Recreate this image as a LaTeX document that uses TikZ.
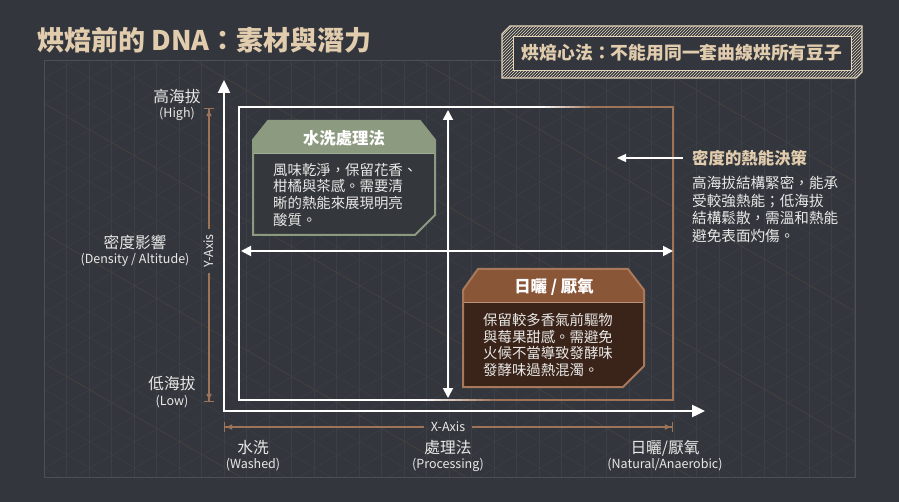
\documentclass[tikz,border=0pt]{standalone}
\usepackage{fontspec}
\newfontfamily\cjk{Noto Sans CJK TC}
\usetikzlibrary{arrows.meta,patterns}
\definecolor{bg}{HTML}{33373D}
\definecolor{beige}{HTML}{E2CCAE}
\definecolor{txt}{HTML}{E8E8E6}
\definecolor{tanl}{HTML}{9E7459}
\definecolor{greenhd}{HTML}{8C9A80}
\definecolor{greenbody}{HTML}{34373B}
\definecolor{brownhd}{HTML}{8A5638}
\definecolor{brownbody}{HTML}{3A2319}
\definecolor{brownedge}{HTML}{A9785A}
\definecolor{gridc}{HTML}{3C4046}
\definecolor{gridb}{HTML}{46423D}
\definecolor{framec}{HTML}{4C5056}
\tikzset{
  lbl/.style={text=txt, inner sep=0pt, font=\cjk\fontsize{15.7}{17}\selectfont},
  lblen/.style={text=txt, inner sep=0pt, font=\cjk\fontsize{12.5}{14}\selectfont},
  axlbl/.style={text=txt, inner sep=5pt, font=\cjk\fontsize{12.5}{14}\selectfont},
  body/.style={text=txt, inner sep=0pt, align=left, anchor=north west, font=\cjk\fontsize{14.4}{16.7}\selectfont},
  hdr/.style={text=white, inner sep=0pt, font=\cjk\bfseries\fontsize{16.4}{18}\selectfont},
  mainax/.style={white, line width=2.4pt, -{Triangle[length=13pt,width=12pt]}},
  cross/.style={white, line width=1.8pt, {Triangle[length=10pt,width=10pt]}-{Triangle[length=10pt,width=10pt]}},
  tanax/.style={tanl, line width=1.4pt, -{Latex[length=7pt,width=6pt] Bar[width=10pt,line width=1.2pt]}},
}
\begin{document}
\begin{tikzpicture}[x=1pt,y=-1pt]
\useasboundingbox (0,0) rectangle (899,502);
\fill[bg] (0,0) rectangle (899,502);
% lattice
\begin{scope}
\clip (44,60) rectangle (855,477);
\foreach \i in {0,...,37} {\draw[gridc, line width=0.5pt] (44+\i*22.5,60) -- (44+\i*22.5,477);}
\foreach \i in {-22,...,20} {
  \draw[gridc, line width=0.5pt] (0,\i*26) -- (900,\i*26+519.6);
  \draw[gridc, line width=0.5pt] (0,\i*26+519.6) -- (900,\i*26);
}
\foreach \i in {-22,-17,...,20} {
  \draw[gridb, line width=0.5pt] (0,\i*26) -- (900,\i*26+519.6);
}
\end{scope}
\draw[framec, line width=0.8pt] (44,60) rectangle (855,477);
% title
\node[anchor=west, inner sep=0pt, text=beige, font=\cjk\bfseries\fontsize{27}{30}\selectfont] (title) at (37,40) {烘焙前的 DNA：素材與潛力};
% top right box
\path[pattern=north east lines, pattern color=beige!75] (502,34) -- (510,26) -- (862,26) -- (862,72) -- (856,78) -- (502,78) -- cycle;
\draw[beige!85, line width=1.1pt] (502,34) -- (510,26) -- (862,26) -- (862,72) -- (856,78) -- (502,78) -- cycle;
\fill[bg] (513,36) rectangle (851,70);
\draw[beige!85, line width=0.9pt] (513,36) rectangle (851,70);
\node[text=beige, inner sep=0pt, font=\cjk\bfseries\fontsize{17.8}{20}\selectfont] (motto) at (682,53) {烘焙心法：不能用同一套曲線烘所有豆子};
% inner rectangle
\draw[tanl, line width=2pt] (595,107) -- (673,107) -- (673,400) -- (495,400);
\foreach \k in {0,...,10} {
  \pgfmathsetmacro\pct{100-\k*10}
  \draw[white!\pct!tanl, line width=2pt] (540+\k*5,107) -- (546+\k*5,107);
  \draw[white!\pct!tanl, line width=2pt] (420+\k*7,400) -- (428+\k*7,400);
}
\draw[white, line width=2pt] (420,400) -- (239,400) -- (239,107) -- (541,107);
% main axes
\coordinate (O) at (224,411);
\coordinate (ytop) at (224,80);
\coordinate (xend) at (705,411);
\draw[mainax] (224,412.2) -- (ytop);
\draw[mainax] (O) -- (xend);
% crosshair arrows
\coordinate (vt) at (448,110);
\coordinate (vb) at (448,398);
\coordinate (hl) at (241,251);
\coordinate (hr) at (673,251);
\draw[cross] (vb) -- (vt);
\draw[cross] (hl) -- (hr);
% tan axes
\coordinate (yt) at (209,108);
\coordinate (yb) at (209,402);
\node[axlbl, rotate=90] (yax) at (209,251) {Y-Axis};
\draw[tanax] (yax.east) -- (yt);
\draw[tanax] (yax.west) -- (yb);
\coordinate (xl) at (224,427);
\coordinate (xr) at (673,427);
\node[axlbl, inner sep=7pt] (xax) at (448,427) {X-Axis};
\draw[tanax] (xax.west) -- (xl);
\draw[tanax] (xax.east) -- (xr);
% green box
\begin{scope}
\clip (253,140) -- (268,121) -- (420,121) -- (435,140) -- (435,215) -- (415,235) -- (253,235) -- cycle;
\fill[greenbody] (250,118) rectangle (440,240);
\fill[greenhd] (250,118) rectangle (440,153);
\end{scope}
\draw[greenhd!80!white, line width=0.8pt] (253,153) -- (435,153);
\draw[greenhd, line width=2pt] (253,140) -- (268,121) -- (420,121) -- (435,140) -- (435,215) -- (415,235) -- (253,235) -- cycle;
\node[hdr] (ghdr) at (344,138) {水洗處理法};
\node[body] (gbody) at (273,163) {風味乾淨，保留花香、\\柑橘與茶感。需要清\\晰的熱能來展現明亮\\酸質。};
% brown box
\begin{scope}
\clip (463,290) -- (478,269) -- (628,269) -- (644,290) -- (644,366) -- (623,387) -- (463,387) -- cycle;
\fill[brownbody] (460,265) rectangle (648,390);
\fill[brownhd] (460,265) rectangle (648,303);
\end{scope}
\draw[brownedge!80!white, line width=1pt] (463,303) -- (644,303);
\draw[brownedge, line width=2pt] (463,290) -- (478,269) -- (628,269) -- (644,290) -- (644,366) -- (623,387) -- (463,387) -- cycle;
\node[hdr] (bhdr) at (554,287) {日曬 / 厭氧};
\node[body] (bbody) at (483,313) {保留較多香氣前驅物\\與莓果甜感。需避免\\火候不當導致發酵味\\發酵味過熱混濁。};
% annotation
\node[anchor=west, inner sep=0pt, text=beige, font=\cjk\bfseries\fontsize{16.4}{18}\selectfont] (anntitle) at (692,158) {密度的熱能決策};
\coordinate (annstart) at (683,158);
\coordinate (annend) at (617,158);
\draw[white, line width=1.3pt, -{Triangle[length=9pt,width=8pt]}] (annstart) -- (annend);
\node[body, font=\cjk\fontsize{14.6}{17.6}\selectfont] (annbody) at (692,176) {高海拔結構緊密，能承\\受較強熱能；低海拔\\結構鬆散，需溫和熱能\\避免表面灼傷。};
% axis labels
\node[lbl] (hi1) at (177,97) {高海拔};
\node[lblen] (hi2) at (177,114) {(High)};
\node[lbl] (den1) at (135,242) {密度影響};
\node[lblen] (den2) at (135,260) {(Density / Altitude)};
\node[lbl] (lo1) at (172,384) {低海拔};
\node[lblen] (lo2) at (172,402) {(Low)};
\node[lbl] (wa1) at (253,448) {水洗};
\node[lblen] (wa2) at (253,465) {(Washed)};
\node[lbl] (pr1) at (448,448) {處理法};
\node[lblen] (pr2) at (448,465) {(Processing)};
\node[lbl] (na1) at (665,448) {日曬/厭氧};
\node[lblen] (na2) at (665,465) {(Natural/Anaerobic)};
\end{tikzpicture}
\end{document}
